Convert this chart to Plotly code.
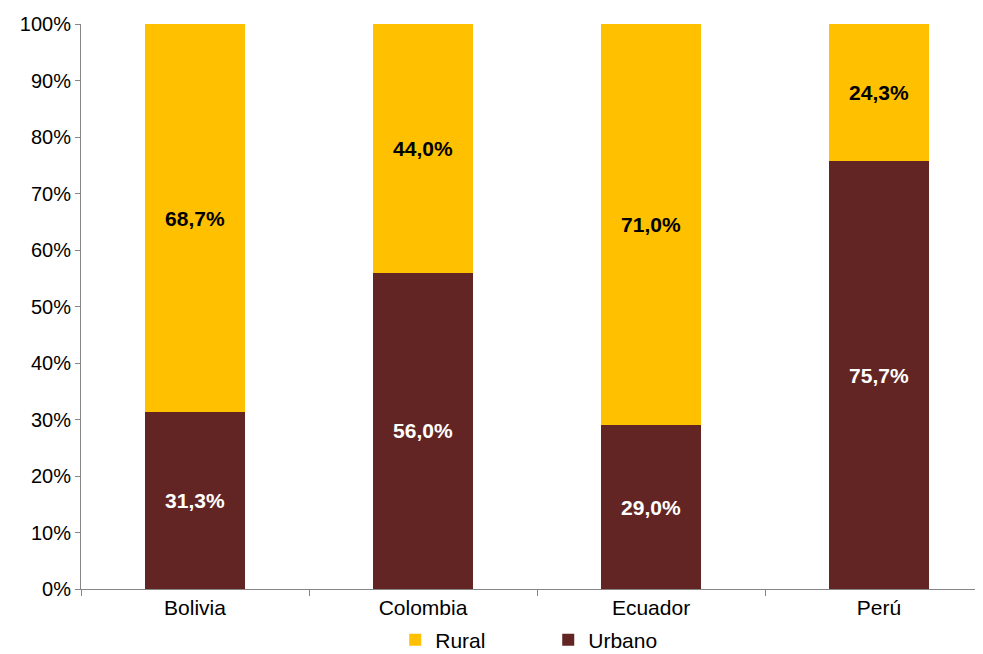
import plotly.graph_objects as go

countries = ["Bolivia", "Colombia", "Ecuador", "Perú"]
urbano = [31.3, 56.0, 29.0, 75.7]
rural = [68.7, 44.0, 71.0, 24.3]

def lbl(v):
    return [f"{x:.1f}%".replace(".", ",") for x in v]

fig = go.Figure()
fig.add_trace(go.Bar(
    x=countries, y=urbano, name="Urbano", marker_color="#632523", marker_line_width=0,
    text=lbl(urbano), textposition="inside", insidetextanchor="middle",
    textfont=dict(color="white", size=21, family="Liberation Sans"),
    texttemplate="<b>%{text}</b>", width=0.437, showlegend=True))
fig.add_trace(go.Bar(
    x=countries, y=rural, name="Rural", marker_color="#FFC000", marker_line_width=0,
    text=lbl(rural), textposition="inside", insidetextanchor="middle",
    textfont=dict(color="black", size=21, family="Liberation Sans"),
    texttemplate="<b>%{text}</b>", width=0.437))

fig.update_layout(
    barmode="stack", width=975, height=646,
    margin=dict(l=73, r=0, t=16, b=65, autoexpand=False),
    plot_bgcolor="white", paper_bgcolor="white",
    font=dict(family="Liberation Sans", size=20, color="black"),
    uniformtext=dict(minsize=10, mode="show"),
    legend=dict(orientation="h", x=0.518, xanchor="center", y=-0.054, yanchor="top",
                traceorder="reversed", font=dict(size=21), itemwidth=30,
                entrywidth=108),
    xaxis=dict(type="category", range=[-0.5, 3.456], showline=True, linecolor="#868686",
               ticks="outside", tickson="boundaries", ticklen=6, tickcolor="#868686",
               showgrid=False, tickfont=dict(size=21), automargin=False),
    yaxis=dict(range=[0, 100], tickvals=list(range(0, 101, 10)),
               ticktext=[f"{v}%" for v in range(0, 101, 10)],
               showline=True, linecolor="#868686", ticks="outside", ticklen=5,
               tickcolor="#868686", showgrid=False, zeroline=False,
               tickfont=dict(size=20), automargin=False),
)
fig.write_html("out.html")
